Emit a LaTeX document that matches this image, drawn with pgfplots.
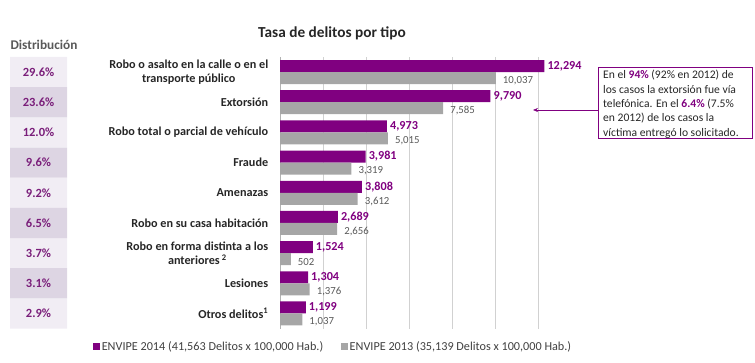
\documentclass[border=0pt]{standalone}
\usepackage{fontspec}
\setmainfont{Carlito}
\usepackage{pgfplots}
\pgfplotsset{compat=1.18}
\usepackage{pgfplotstable}
\usetikzlibrary{arrows.meta}

\definecolor{envp}{HTML}{800080}
\definecolor{envg}{HTML}{A6A6A6}
\definecolor{cellA}{HTML}{F1EDF4}
\definecolor{cellB}{HTML}{DDD5E3}
\definecolor{pctc}{HTML}{7A1E7A}
\definecolor{txt}{HTML}{262626}
\definecolor{gtxt}{HTML}{595959}

\pgfplotstableread{
y a b
0 1199 1037
1 1304 1376
2 1524 502
3 2689 2656
4 3808 3612
5 3981 3319
6 4973 5015
7 9790 7585
8 12294 10037
}\rates

\pgfplotstableread{
y p
0 2.9
1 3.1
2 3.7
3 6.5
4 9.2
5 9.6
6 12.0
7 23.6
8 29.6
}\dist

\begin{document}
\begin{tikzpicture}[x=1pt,y=1pt]
\useasboundingbox (0,0) rectangle (755,362);

% distribution column
\begin{axis}[
  at={(10pt,33.5pt)}, anchor=south west, scale only axis,
  width=57pt, height=271.5pt,
  xmin=0, xmax=1, ymin=-0.5, ymax=8.5,
  hide axis, clip=false,
]
\addplot[xbar, fill=cellA, draw=none, bar width=1, bar shift=0pt]
  coordinates {(1,0) (1,2) (1,4) (1,6) (1,8)};
\addplot[xbar, fill=cellB, draw=none, bar width=1, bar shift=0pt]
  coordinates {(1,1) (1,3) (1,5) (1,7)};
\addplot[only marks, mark=none, point meta=explicit,
  nodes near coords={\pgfmathprintnumber[fixed,fixed zerofill,precision=1,assume math mode=true]{\pgfplotspointmeta}\%},
  every node near coord/.append style={anchor=center, font=\bfseries\fontsize{12.5}{14}\selectfont, text=pctc}]
  table[x expr=0.5, y=y, meta=p] {\dist};
\end{axis}

\begin{axis}[
  at={(280pt,33.5pt)}, anchor=south west, scale only axis,
  width=301pt, height=271.5pt,
  xmin=0, xmax=14000, ymin=-0.5, ymax=8.5,
  xbar, bar width=12pt,
  clip=false,
  scaled x ticks=false,
  separate axis lines,
  axis x line*=bottom, x axis line style={draw=none},
  axis y line*=left, y axis line style={draw=black!30, line width=0.6pt},
  xtick={2000,4000,...,12000}, xticklabels={},
  xmajorgrids, major x grid style={draw=black!18, line width=0.6pt},
  major x tick style={draw=none},
  ytick={0,...,8},
  major y tick style={draw=none},
  extra y ticks={-0.5,0.5,...,8.5}, extra y tick labels={},
  extra y tick style={major tick length=5pt, tick align=outside, tick style={draw=black!30, line width=0.6pt}},
  yticklabels={{Otros delitos\textsuperscript{1}},{Lesiones},{Robo en forma distinta a los\\anteriores\,\textsuperscript{2}},{Robo en su casa habitación},{Amenazas},{Fraude},{Robo total o parcial de vehículo},{Extorsión},{Robo o asalto en la calle o en el\\transporte público}},
  yticklabel style={align=center, font=\bfseries\fontsize{12.2}{14.3}\selectfont, text=txt, xshift=-4pt},
  /pgf/number format/.cd, 1000 sep={,}, assume math mode=true, /pgfplots/.cd,
  legend style={at={(-0.621,-0.068)}, anchor=west, draw=none, fill=none,
    legend columns=2, font=\fontsize{12.2}{14}\selectfont, text=black!75, inner sep=0pt,
    /tikz/every even column/.append style={column sep=16pt}},
  legend image code/.code={\fill[#1] (0pt,-3pt) rectangle (6.5pt,3.5pt);},
]
\addplot[fill=envp, draw=none, bar shift=6pt, forget plot,
  point meta=x, nodes near coords,
  every node near coord/.append style={anchor=west, inner sep=0pt, xshift=3pt,
    font=\bfseries\fontsize{12.2}{14}\selectfont, text=envp}]
  table[x=a, y=y] {\rates};
\addplot[fill=envg, draw=none, bar shift=-6pt, forget plot,
  point meta=x, nodes near coords,
  every node near coord/.append style={anchor=west, inner sep=0pt, xshift=7pt, yshift=-2.5pt,
    font=\fontsize{10.8}{12}\selectfont, text=gtxt}]
  table[x=b, y=y] {\rates};
\addlegendimage{fill=envp, draw=none}
\addlegendentry{ENVIPE 2014 (41,563 Delitos x 100,000 Hab.)}
\addlegendimage{fill=envg, draw=none}
\addlegendentry{ENVIPE 2013 (35,139 Delitos x 100,000 Hab.)}
\end{axis}

\node[font=\bfseries\fontsize{15.3}{17}\selectfont, text=txt] at (332,329) {Tasa de delitos por tipo};
\node[font=\bfseries\fontsize{13.3}{15}\selectfont, text=gtxt] at (44,317) {Distribución};

\draw[envp, line width=0.8pt] (598,224) rectangle (752,295);
\draw[-{Stealth[length=5pt,width=4pt]}, envp, line width=0.6pt] (598,252) -- (533,252);
\node[anchor=north west, inner sep=0pt, align=left, text=txt,
  font=\fontsize{11.6}{14.4}\selectfont] at (603,292)
  {En el \textcolor{envp}{\textbf{94\%}} (92\% en 2012) de\\
   los casos la extorsión fue vía\\
   telefónica. En el \textcolor{envp}{\textbf{6.4\%}} (7.5\%\\
   en 2012) de los casos la\\
   víctima entregó lo solicitado.};
\end{tikzpicture}
\end{document}
